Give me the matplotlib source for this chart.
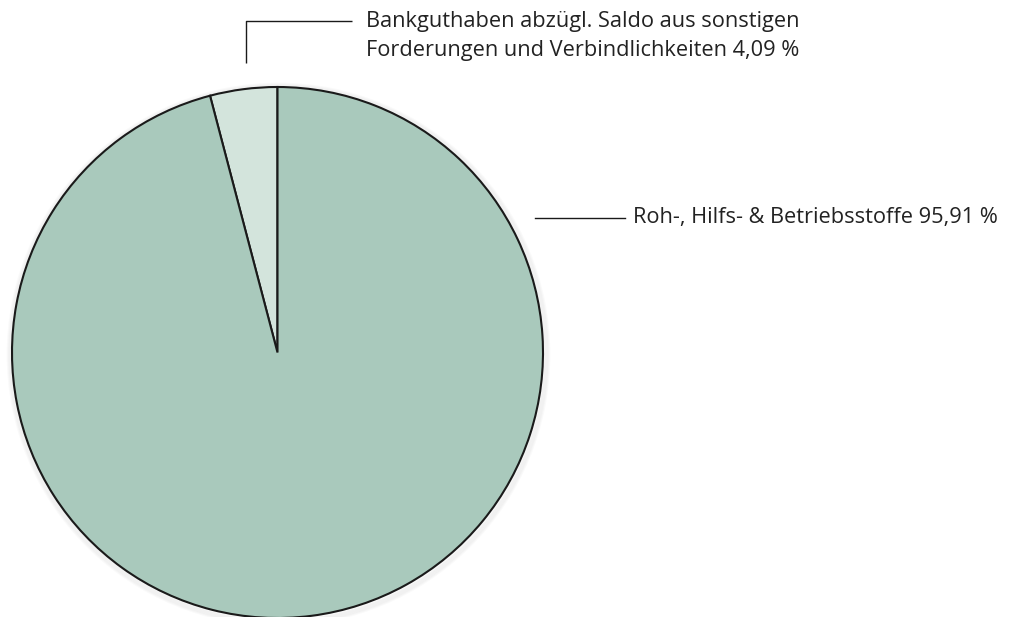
import matplotlib
matplotlib.use("Agg")
import matplotlib.pyplot as plt
from matplotlib.patches import Circle

labels = ["Bankguthaben abzügl. Saldo aus sonstigen\nForderungen und Verbindlichkeiten 4,09 %",
          "Roh-, Hilfs- & Betriebsstoffe 95,91 %"]
values = [4.09, 95.91]
colors = ["#d3e4dc", "#a9c9bc"]

W, H = 1019, 617
fig = plt.figure(figsize=(W / 100, H / 100), dpi=100)
ax = fig.add_axes([0, 0, 1, 1])
ax.set_xlim(0, W)
ax.set_ylim(0, H)
ax.set_aspect("equal")
ax.axis("off")

cx, cy, r = 277.5, H - 352.5, 265.5

# soft shadow
for i in range(6):
    ax.add_patch(Circle((cx + 1, cy - 2), r + i, facecolor="none",
                        edgecolor="black", alpha=0.02, lw=2, zorder=1))

ax.pie(values, colors=colors, startangle=90, counterclock=True, center=(cx, cy),
       radius=r, frame=True,
       wedgeprops=dict(edgecolor="#1a1a1a", linewidth=1.5))
ax.set_xlim(0, W)
ax.set_ylim(0, H)
ax.axis("off")

font = "Open Sans"
fs = 15.7
# leader for small slice
ax.plot([246, 246, 352], [H - 63, H - 21, H - 21], color="#1a1a1a", lw=1.0,
        solid_capstyle="butt")
ax.text(366, H - 36, labels[0], fontsize=fs, family=font, color="#222222",
        va="center", ha="left", linespacing=1.55)
# leader for large slice
ax.plot([535, 625], [H - 218, H - 218], color="#1a1a1a", lw=1.0)
ax.text(633, H - 218, labels[1], fontsize=fs, family=font, color="#222222",
        va="center", ha="left")

fig.savefig("out.png", dpi=100, facecolor="white")
